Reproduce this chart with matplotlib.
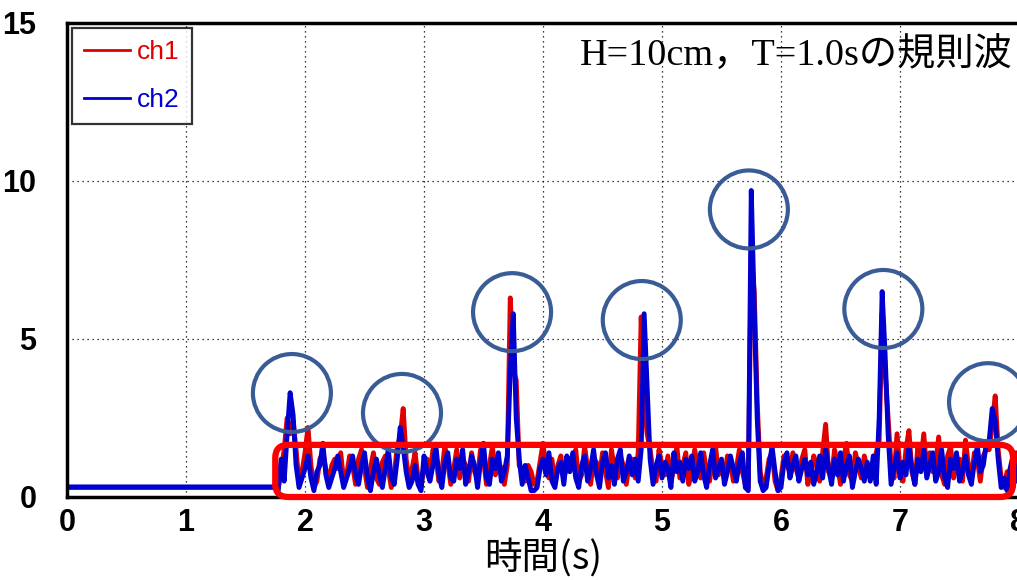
import numpy as np
import matplotlib
matplotlib.use("Agg")
import matplotlib.pyplot as plt
from matplotlib.patches import Ellipse, FancyBboxPatch

plt.rcParams['font.family'] = ['Liberation Sans', 'Noto Sans CJK JP', 'DejaVu Sans']

# flat part before the waves arrive
t_head = [0.0, 1.725]
ch1_head = [0.3, 0.3]
ch2_head = [0.32, 0.32]

# 0.025 s samples from 1.75 s to 8.0 s
ch1_vals = [
    0.3, 0.3, 0.8, 1.5, 2.5, 2.0, 2.4, 1.5, 0.4, 0.8, 1.4, 2.2, 1.0, 0.3, 0.5, 1.2, 1.4, 0.9, 0.4, 1.0,
    1.2, 0.9, 1.4, 0.5, 0.7, 1.3, 1.0, 0.4, 1.2, 1.5, 0.9, 0.3, 0.9, 1.4, 0.6, 0.4, 1.1, 1.3, 0.9, 0.3,
    0.7, 1.6, 1.9, 2.8, 1.2, 0.5, 0.9, 1.4, 0.6, 0.3, 1.0, 1.2, 0.7, 1.5, 1.3, 0.5, 0.8, 1.6, 1.1, 0.4,
    0.9, 1.5, 0.6, 1.2, 1.0, 0.5, 1.4, 0.8, 0.6, 1.5, 1.2, 0.4, 1.0, 1.6, 0.7, 1.1, 0.9, 0.4, 1.0, 6.3,
    4.0, 3.7, 1.0, 0.8, 0.5, 1.0, 0.8, 0.4, 0.5, 1.1, 1.7, 0.9, 0.6, 1.2, 0.4, 1.0, 1.3, 0.6, 1.0, 1.2,
    0.9, 1.5, 0.5, 0.7, 1.6, 0.9, 0.4, 1.2, 1.1, 0.6, 1.4, 0.8, 0.3, 1.5, 0.9, 0.6, 1.3, 1.0, 0.4, 1.1,
    1.2, 0.6, 1.4, 5.7, 3.0, 2.0, 1.5, 0.8, 0.5, 1.5, 1.0, 0.7, 1.3, 0.5, 0.9, 1.6, 0.6, 1.0, 1.4, 0.4,
    0.8, 1.5, 0.9, 0.6, 1.4, 0.8, 0.5, 1.2, 1.6, 0.7, 1.0, 0.6, 1.3, 1.1, 0.5, 0.9, 1.5, 0.8, 0.4, 0.3,
    7.7, 6.5, 3.0, 0.8, 0.3, 0.6, 1.2, 1.4, 0.5, 0.2, 0.6, 1.3, 1.0, 0.8, 1.4, 0.9, 0.6, 1.2, 1.5, 0.4,
    0.7, 1.3, 1.0, 0.5, 1.4, 2.3, 0.8, 0.6, 1.5, 1.0, 0.4, 1.2, 1.7, 0.7, 0.5, 1.4, 1.0, 0.6, 1.3, 0.9,
    1.0, 0.6, 1.4, 1.8, 5.8, 4.0, 2.5, 1.0, 0.6, 2.0, 0.9, 0.5, 1.5, 2.1, 0.8, 0.4, 1.6, 1.1, 2.0, 0.7,
    1.4, 0.8, 1.1, 1.9, 0.7, 0.4, 1.3, 1.6, 0.6, 1.0, 1.2, 0.5, 1.8, 1.0, 0.6, 1.4, 1.2, 0.5, 1.3, 1.5,
    1.5, 2.3, 3.2, 1.5, 0.6, 0.3, 0.8, 0.4, 1.1, 1.4, 0.7,
]
ch2_vals = [
    0.3, 0.2, 1.2, 0.5, 2.0, 3.3, 2.6, 1.0, 0.3, 0.6, 0.9, 1.3, 0.6, 0.2, 0.8, 1.0, 1.7, 0.7, 0.3, 0.6,
    0.9, 1.3, 0.8, 0.3, 0.6, 0.9, 1.3, 0.7, 0.4, 1.0, 1.4, 0.6, 0.2, 0.8, 1.2, 0.7, 0.3, 0.9, 1.5, 0.6,
    0.4, 1.2, 2.2, 1.6, 0.8, 0.3, 0.5, 1.0, 0.4, 0.2, 1.3, 0.8, 0.5, 1.0, 1.6, 0.7, 0.3, 1.1, 1.4, 0.6,
    0.5, 1.2, 0.9, 1.5, 0.4, 0.8, 1.3, 1.0, 0.3, 1.1, 1.7, 0.6, 0.4, 1.2, 0.9, 1.4, 0.5, 0.8, 1.3, 4.0,
    5.8, 2.5, 1.2, 0.4, 1.0, 0.6, 0.2, 0.2, 0.3, 0.9, 1.2, 0.7, 1.4, 0.5, 0.3, 0.9, 1.1, 0.4, 1.3, 0.8,
    1.4, 0.6, 0.3, 1.0, 1.3, 0.5, 0.9, 1.5, 0.7, 0.3, 1.1, 1.4, 0.6, 1.0, 0.4, 1.2, 1.5, 0.5, 0.8, 1.3,
    0.7, 1.2, 0.5, 1.5, 5.8, 3.5, 1.2, 0.4, 1.0, 1.3, 0.6, 1.1, 0.9, 0.3, 1.4, 0.8, 1.1, 0.5, 1.2, 0.9,
    1.3, 0.5, 0.8, 1.4, 0.7, 0.3, 1.0, 1.5, 0.6, 0.9, 1.2, 0.4, 0.8, 1.3, 0.9, 0.5, 1.1, 1.4, 0.3, 0.2,
    9.7, 6.0, 2.5, 0.5, 0.2, 0.3, 1.0, 1.6, 0.8, 0.2, 0.3, 1.1, 1.4, 0.6, 1.0, 1.3, 0.5, 0.9, 1.2, 0.7,
    1.1, 0.4, 0.8, 1.3, 0.6, 1.5, 0.9, 0.4, 1.2, 0.7, 1.4, 0.5, 1.0, 1.3, 0.3, 0.8, 1.2, 0.9, 0.5, 1.1,
    0.5, 1.3, 0.4, 2.5, 6.5, 4.5, 2.0, 0.4, 0.9, 1.4, 0.6, 1.1, 0.7, 1.6, 0.9, 0.4, 1.2, 0.8, 1.5, 0.6,
    1.0, 1.4, 0.5, 0.8, 1.5, 0.6, 0.3, 1.2, 0.9, 1.4, 0.5, 0.8, 1.3, 0.7, 0.4, 1.1, 1.6, 0.8, 1.0, 1.7,
    1.8, 2.8, 2.4, 1.2, 0.3, 0.6, 0.2, 0.9, 1.3, 0.5, 1.0,
]
t_vals = np.linspace(1.75, 8.0, len(ch1_vals))

t = np.concatenate([t_head, t_vals])
ch1 = np.concatenate([ch1_head, ch1_vals])
ch2 = np.concatenate([ch2_head, ch2_vals])

# peaks that are circled (centre x, centre y)
circ_x = [1.89, 2.815, 3.74, 4.83, 5.73, 6.86, 7.74]
circ_y = [3.29, 2.66, 5.85, 5.60, 9.10, 5.95, 3.00]

title = "H=10cm，T=1.0sの規則波"

fig = plt.figure(figsize=(10.17, 5.8), dpi=100)
ax = fig.add_axes([67 / 1017, 83 / 580, 952 / 1017, 474 / 580])

ax.plot(t, ch1, color='#e00000', lw=3.5, label='ch1')
ax.plot(t, ch2, color='#0000d0', lw=3.5, label='ch2')

ax.set_xlim(0, 8)
ax.set_ylim(0, 15)
ax.set_xticks(range(9))
ax.set_yticks([0, 5, 10, 15])
ax.grid(True, color='black', ls=(0, (1, 3)), lw=0.9)

for s in ax.spines.values():
    s.set_linewidth(2.5)
ax.tick_params(direction='in', length=0, labelsize=22)
ax.tick_params(axis='y', pad=22)
ax.tick_params(axis='x', pad=8)
for lb in ax.get_xticklabels() + ax.get_yticklabels():
    lb.set_fontweight('bold')

ax.set_xlabel("時間(s)", fontsize=27, family=['Noto Sans CJK JP'], labelpad=0)

leg = ax.legend(loc='upper left', fontsize=19, frameon=True, fancybox=False,
                borderaxespad=0.2, handlelength=1.75, handletextpad=0.25,
                borderpad=0.45, labelspacing=0.9)
leg.get_frame().set_edgecolor('black')
leg.get_frame().set_linewidth(1.6)
for line in leg.get_lines():
    line.set_linewidth(2.0)
for txt, c in zip(leg.get_texts(), ['#e00000', '#0000d0']):
    txt.set_color(c)

ax.text(0.993, 0.932, title, transform=ax.transAxes, ha='right', va='center',
        fontsize=27.5, family=['Liberation Serif', 'Noto Sans CJK JP'])

# circles around the peaks (round on screen)
xpx = 952 / 8
ypx = 474 / 15
for cx, cy in zip(circ_x, circ_y):
    ax.add_patch(Ellipse((cx, cy), 78 / xpx, 78 / ypx, fill=False,
                         ec='#3a5c96', lw=3.0, zorder=5, clip_on=False))

# rounded red box over the noise band
asp = xpx / ypx
ax.add_patch(FancyBboxPatch((1.75, 0.0), 6.2, 1.65,
                            boxstyle="round,pad=0,rounding_size=0.11",
                            mutation_aspect=asp, fill=False, ec='#ff0000',
                            lw=4.5, zorder=6, clip_on=False))

fig.savefig('out.png', dpi=100)
